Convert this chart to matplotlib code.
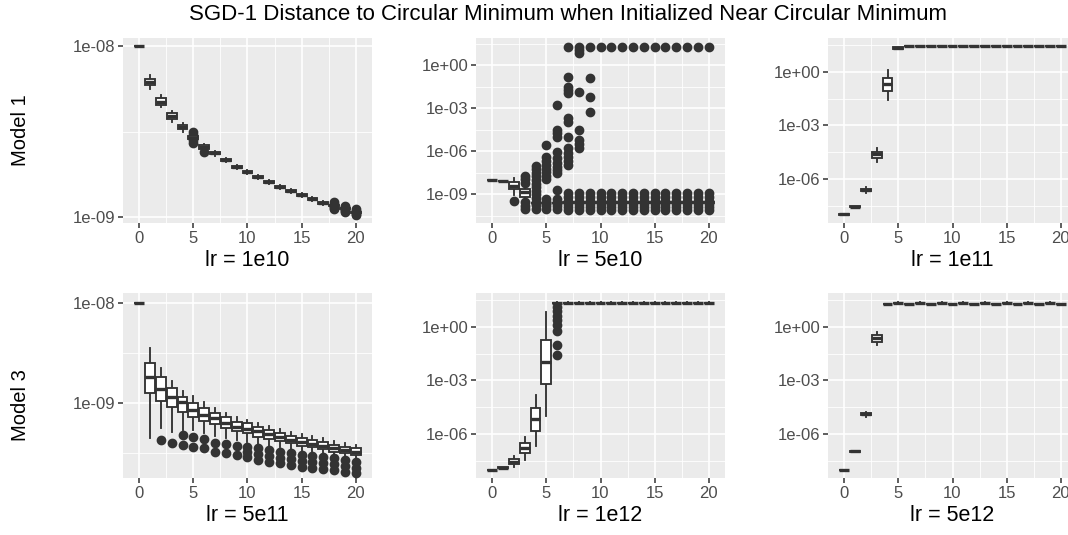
#!/usr/bin/env python

import numpy as np
import matplotlib
matplotlib.use("Agg")
import matplotlib.pyplot as plt

plt.rcParams['font.family'] = ['Liberation Sans', 'DejaVu Sans']

# iteration index on the x axis
steps = list(range(21))

# all distances are stored as log10(distance)

# Model 1, lr = 1e10
m1a_med = [-8.0, -8.212, -8.325, -8.41, -8.475, -8.535, -8.59, -8.628, -8.667, -8.706, -8.735,
           -8.764, -8.797, -8.823, -8.846, -8.87, -8.893, -8.916, -8.934, -8.952, -8.972]
m1a_q3 = [-7.998, -8.195, -8.306, -8.394, -8.462, -8.528, -8.579, -8.622, -8.661, -8.700, -8.729,
          -8.758, -8.791, -8.817, -8.840, -8.864, -8.887, -8.910, -8.930, -8.948, -8.968]
m1a_q1 = [-8.002, -8.226, -8.345, -8.429, -8.487, -8.542, -8.601, -8.634, -8.673, -8.712, -8.741,
          -8.770, -8.803, -8.829, -8.852, -8.876, -8.899, -8.922, -8.938, -8.956, -8.976]
m1a_whi = [-7.998, -8.17, -8.287, -8.38, -8.45, -8.52, -8.573, -8.615, -8.655, -8.694, -8.723,
           -8.752, -8.785, -8.811, -8.834, -8.858, -8.881, -8.904, -8.926, -8.944, -8.964]
m1a_wlo = [-8.002, -8.25, -8.358, -8.443, -8.50, -8.55, -8.607, -8.641, -8.679, -8.718, -8.747,
           -8.776, -8.809, -8.835, -8.858, -8.882, -8.905, -8.928, -8.942, -8.960, -8.980]
m1a_out = {5: [-8.501, -8.518, -8.552, -8.569], 6: [-8.618],
           18: [-8.912, -8.923, -8.945, -8.956], 19: [-8.934, -8.943, -8.962, -8.971],
           20: [-8.953, -8.962, -8.981, -8.99]}

# Model 1, lr = 5e10
m1b_med = [-8.0, -8.09, -8.42, -8.86, -9.6, -9.6, -9.6, -9.55, -9.55, -9.55, -9.55,
           -9.55, -9.55, -9.55, -9.55, -9.55, -9.55, -9.55, -9.55, -9.55, -9.55]
m1b_q3 = [-7.99, -8.08, -8.12, -8.65, -9.58, -9.58, -9.58, -9.53, -9.53, -9.53, -9.53,
          -9.53, -9.53, -9.53, -9.53, -9.53, -9.53, -9.53, -9.53, -9.53, -9.53]
m1b_q1 = [-8.01, -8.10, -8.65, -9.17, -9.62, -9.62, -9.62, -9.57, -9.57, -9.57, -9.57,
          -9.57, -9.57, -9.57, -9.57, -9.57, -9.57, -9.57, -9.57, -9.57, -9.57]
m1b_whi = [-7.99, -8.08, -7.88, -8.5, -9.5, -9.5, -9.5, -9.45, -9.45, -9.45, -9.45,
           -9.45, -9.45, -9.45, -9.45, -9.45, -9.45, -9.45, -9.45, -9.45, -9.45]
m1b_wlo = [-8.01, -8.10, -9.05, -9.3, -9.7, -9.7, -9.7, -9.65, -9.65, -9.65, -9.65,
           -9.65, -9.65, -9.65, -9.65, -9.65, -9.65, -9.65, -9.65, -9.65, -9.65]
m1b_low = [-8.93, -9.2, -9.45, -9.7, -9.9, -10.1]
m1b_out = {2: [-9.45],
           3: [-7.7, -7.95, -8.2, -9.56, -9.8, -10.05],
           4: [-7.0, -7.25, -7.5, -7.75, -8.0, -8.25, -8.5, -8.75, -9.0, -9.25, -9.5, -9.75, -10.05],
           5: [-5.56, -6.42, -6.7, -6.95, -7.2, -7.45, -7.7, -7.95, -9.33, -9.55, -9.8, -10.05],
           6: [-2.77, -4.5, -4.75, -5.0, -6.03, -6.49, -6.84, -7.1, -7.3, -7.53, -8.7,
               -9.33, -9.55, -9.8, -10.05],
           7: [1.26, -0.8, -1.5, -1.72, -1.95, -3.7, -3.93, -5.02, -5.79, -6.1, -6.4, -6.7, -6.95] + m1b_low,
           8: [1.28, 1.05, 0.85, -1.84, -4.51, -5.2, -5.5, -5.8] + m1b_low,
           9: [1.28, -0.91, -2.19, -3.24] + m1b_low}
for k in range(10, 21):
    m1b_out[k] = [1.28] + m1b_low

# Model 1, lr = 1e11
m1c_med = [-7.97, -7.54, -6.61, -4.62, -0.70, 1.32] + [1.43] * 15
m1c_q3 = [-7.96, -7.52, -6.55, -4.47, -0.37, 1.37] + [1.44] * 15
m1c_q1 = [-7.98, -7.56, -6.67, -4.80, -1.06, 1.27] + [1.42] * 15
m1c_whi = [-7.96, -7.51, -6.45, -4.28, 0.09, 1.39] + [1.45] * 15
m1c_wlo = [-7.98, -7.57, -6.77, -5.03, -1.58, 1.25] + [1.41] * 15
m1c_out = {}

# Model 3, lr = 5e11
m3a_med = [-8.0, -8.746, -8.863, -8.94, -8.996, -9.073, -9.123, -9.156, -9.2, -9.24, -9.26,
           -9.28, -9.31, -9.34, -9.37, -9.39, -9.41, -9.43, -9.455, -9.47, -9.49]
m3a_q3 = [-7.998, -8.606, -8.746, -8.856, -8.94, -9.0, -9.056, -9.106, -9.146, -9.19, -9.206,
          -9.246, -9.273, -9.30, -9.333, -9.356, -9.373, -9.39, -9.423, -9.44, -9.456]
m3a_q1 = [-8.002, -8.90, -8.98, -9.04, -9.09, -9.146, -9.18, -9.216, -9.256, -9.28, -9.306,
          -9.34, -9.363, -9.38, -9.406, -9.433, -9.446, -9.466, -9.49, -9.506, -9.523]
m3a_whi = [-7.998, -8.456, -8.656, -8.78, -8.88, -8.933, -8.99, -9.056, -9.106, -9.14, -9.17,
           -9.2, -9.23, -9.26, -9.29, -9.31, -9.33, -9.35, -9.38, -9.40, -9.42]
m3a_wlo = [-8.002, -9.356, -9.256, -9.29, -9.273, -9.273, -9.306, -9.33, -9.35, -9.37, -9.39,
           -9.41, -9.43, -9.44, -9.46, -9.48, -9.49, -9.51, -9.53, -9.54, -9.56]
m3a_out = {2: [-9.373], 3: [-9.406], 4: [-9.323, -9.423], 5: [-9.346, -9.446],
           6: [-9.366, -9.456], 7: [-9.40, -9.49], 8: [-9.416, -9.506], 9: [-9.433, -9.523],
           10: [-9.44, -9.49, -9.54], 11: [-9.456, -9.515, -9.573], 12: [-9.473, -9.53, -9.59],
           13: [-9.49, -9.55, -9.606], 14: [-9.506, -9.565, -9.623], 15: [-9.523, -9.58, -9.64],
           16: [-9.533, -9.59, -9.65], 17: [-9.546, -9.6, -9.66], 18: [-9.556, -9.615, -9.673],
           19: [-9.573, -9.63, -9.69], 20: [-9.59, -9.65, -9.706]}

# Model 3, lr = 1e12
m3b_med = [-8.0, -7.88, -7.54, -6.76, -5.17, -1.96] + [1.34] * 15
m3b_q3 = [-7.99, -7.86, -7.41, -6.48, -4.56, -0.74] + [1.35] * 15
m3b_q1 = [-8.01, -7.90, -7.69, -7.07, -5.81, -3.20] + [1.33] * 15
m3b_whi = [-7.99, -7.85, -7.22, -6.15, -3.82, 0.84] + [1.36] * 15
m3b_wlo = [-8.01, -7.91, -7.85, -7.45, -6.66, -4.99] + [1.32] * 15
m3b_out = {6: [1.1, 0.85, 0.6, 0.35, 0.1, -0.24, -1.02, -1.58]}

# Model 3, lr = 5e12
m3c_med = [-8.0, -6.97, -4.88, -0.65] + [1.27, 1.34] * 8 + [1.27]
m3c_q3 = [-7.99, -6.95, -4.83, -0.46] + [1.28, 1.35] * 8 + [1.28]
m3c_q1 = [-8.01, -6.99, -4.93, -0.84] + [1.26, 1.33] * 8 + [1.26]
m3c_whi = [-7.99, -6.94, -4.75, -0.28] + [1.29, 1.36] * 8 + [1.29]
m3c_wlo = [-8.01, -7.00, -5.03, -1.02] + [1.25, 1.32] * 8 + [1.25]
m3c_out = {}

panel_titles = ["lr = 1e10", "lr = 5e10", "lr = 1e11", "lr = 5e11", "lr = 1e12", "lr = 5e12"]
row_titles = ["Model 1", "Model 3"]

W, H = 1068, 535
fig = plt.figure(figsize=(W / 100, H / 100), dpi=100)

lefts = [123, 476, 828]
tops = [38, 293]
pw, ph = 249, 185

panels = [
    (m1a_med, m1a_q1, m1a_q3, m1a_wlo, m1a_whi, m1a_out, (-9.035, -7.953), [-8, -9], [-8.5]),
    (m1b_med, m1b_q1, m1b_q3, m1b_wlo, m1b_whi, m1b_out, (-11.0, 1.907), [0, -3, -6, -9], [1.5, -1.5, -4.5, -7.5, -10.5]),
    (m1c_med, m1c_q1, m1c_q3, m1c_wlo, m1c_whi, m1c_out, (-8.453, 1.883), [0, -3, -6], [1.5, -1.5, -4.5, -7.5]),
    (m3a_med, m3a_q1, m3a_q3, m3a_wlo, m3a_whi, m3a_out, (-9.753, -7.903), [-8, -9], [-8.5, -9.5]),
    (m3b_med, m3b_q1, m3b_q3, m3b_wlo, m3b_whi, m3b_out, (-8.453, 1.883), [0, -3, -6], [1.5, -1.5, -4.5, -7.5]),
    (m3c_med, m3c_q1, m3c_q3, m3c_wlo, m3c_whi, m3c_out, (-8.453, 1.883), [0, -3, -6], [1.5, -1.5, -4.5, -7.5]),
]

dark = '#333333'

def fmt(e):
    return "1e%+03d" % e

for idx, (med, q1, q3, wlo, whi, out, ylim, majors, minors) in enumerate(panels):
    r, c = divmod(idx, 3)
    ax = fig.add_axes([lefts[c] / W, 1 - (tops[r] + ph) / H, pw / W, ph / H])
    ax.set_facecolor('#EBEBEB')
    ax.set_yscale('log')
    stats = []
    for i in steps:
        stats.append(dict(med=10.0 ** med[i], q1=10.0 ** q1[i], q3=10.0 ** q3[i],
                          whislo=10.0 ** wlo[i], whishi=10.0 ** whi[i],
                          fliers=10.0 ** np.array(out.get(i, []), dtype=float)))
    ax.bxp(stats, positions=steps, widths=0.9, patch_artist=True, showcaps=False,
           manage_ticks=False,
           boxprops=dict(facecolor='white', edgecolor=dark, linewidth=1.35, zorder=3),
           whiskerprops=dict(color=dark, linewidth=1.35, zorder=2.5),
           medianprops=dict(color=dark, linewidth=2.4, zorder=3.5),
           flierprops=dict(marker='o', markerfacecolor=dark, markeredgecolor=dark,
                           markersize=6, linestyle='none', zorder=2))
    ax.set_xlim(-1.495, 21.495)
    ax.set_ylim(10.0 ** ylim[0], 10.0 ** ylim[1])
    ax.set_xticks([0, 5, 10, 15, 20])
    ax.set_xticks([2.5, 7.5, 12.5, 17.5], minor=True)
    ax.set_yticks([10.0 ** m for m in majors])
    ax.set_yticklabels([fmt(m) for m in majors])
    ax.set_yticks([10.0 ** m for m in minors], minor=True)
    ax.yaxis.set_minor_formatter(matplotlib.ticker.NullFormatter())
    ax.set_axisbelow(True)
    ax.grid(which='major', color='white', linewidth=1.2)
    ax.grid(which='minor', color='white', linewidth=0.6)
    for s in ax.spines.values():
        s.set_visible(False)
    ax.tick_params(which='major', length=3.5, width=1.1, color=dark,
                   labelcolor='#4D4D4D', labelsize=12, pad=2)
    ax.tick_params(which='minor', length=0)
    ax.set_xlabel(panel_titles[idx], fontsize=15.5, labelpad=3, color='black')

fig.text(568 / W, 1 - 14 / H, "SGD-1 Distance to Circular Minimum when Initialized Near Circular Minimum",
         ha='center', va='center', fontsize=16)
fig.text(20 / W, 1 - 130 / H, row_titles[0], rotation=90, ha='center', va='center', fontsize=14.5)
fig.text(20 / W, 1 - 405 / H, row_titles[1], rotation=90, ha='center', va='center', fontsize=14.5)

fig.savefig("out.png", dpi=100)
